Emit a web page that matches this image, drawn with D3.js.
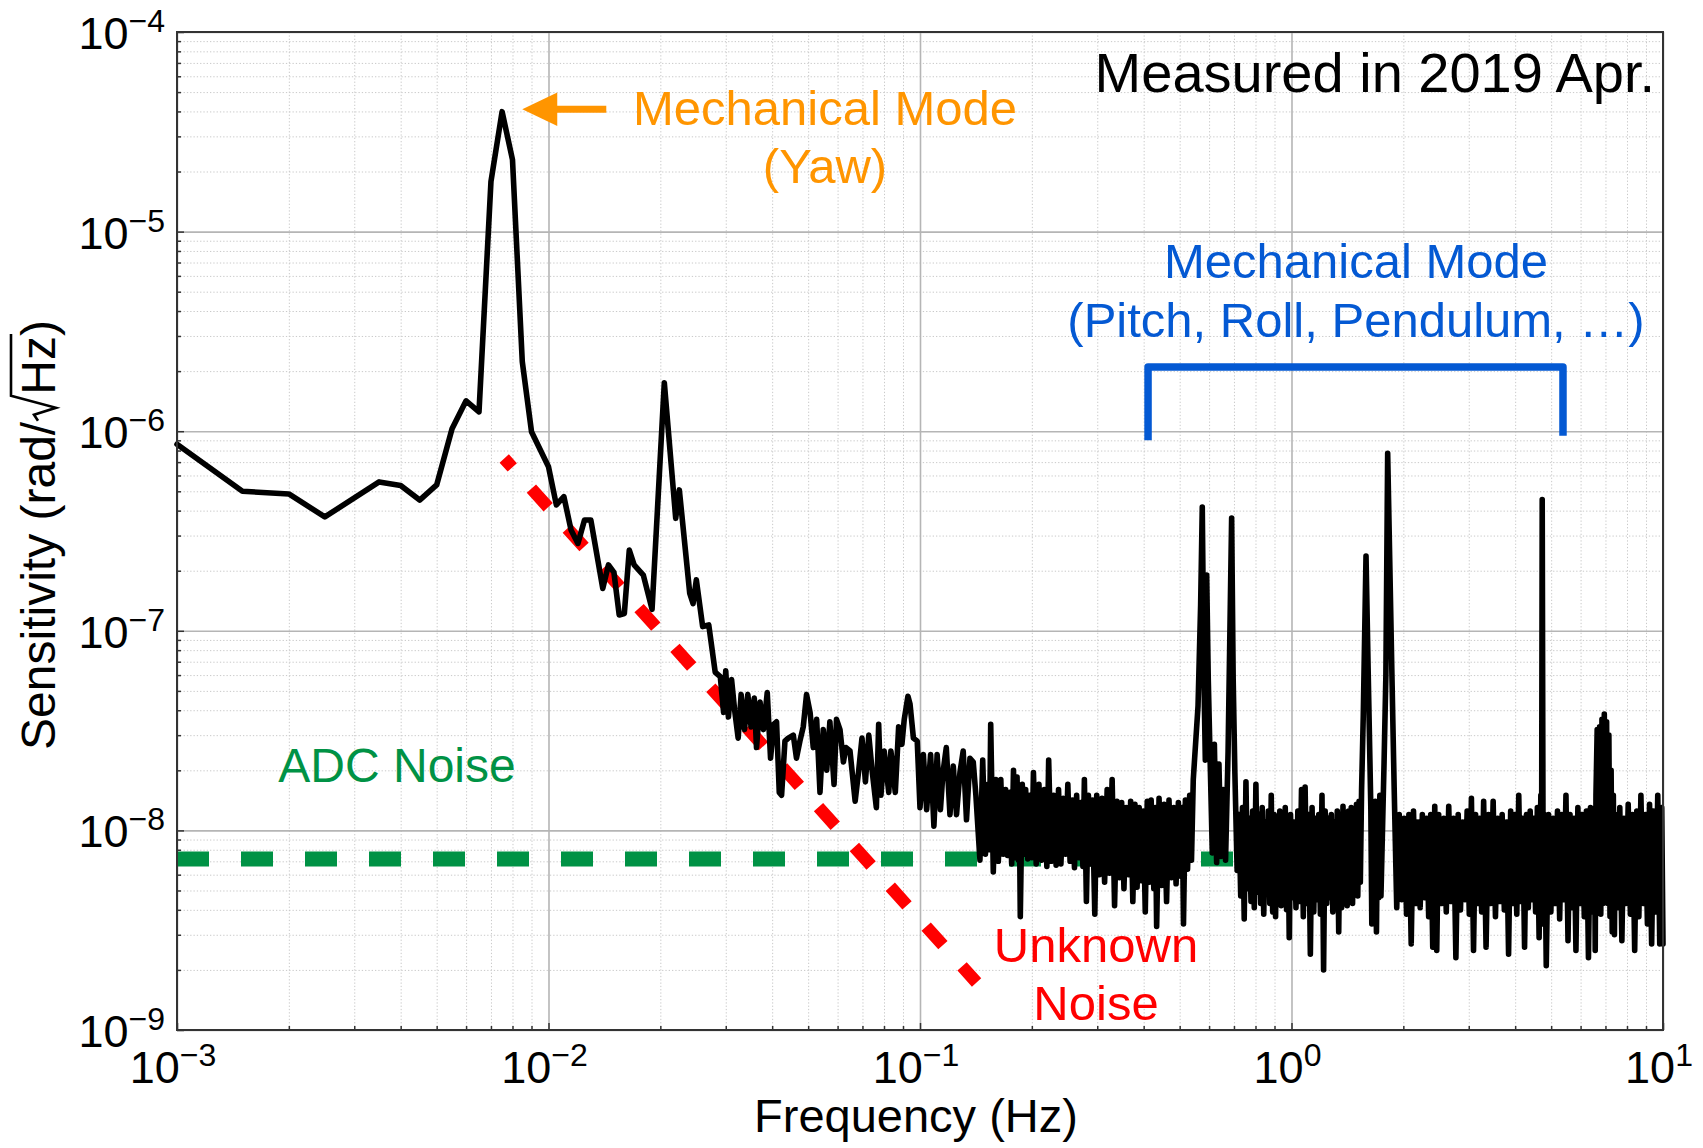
<!DOCTYPE html>
<html>
<head>
<meta charset="utf-8">
<script src="https://cdn.jsdelivr.net/npm/d3@7"></script>
<style>
    html, body { margin: 0; padding: 0; background: #fff; }
    svg { display: block; font-family: "Liberation Sans", Arial, Helvetica, sans-serif; }
    .gridMinor line { stroke: #c9c9c9; stroke-width: 1; stroke-dasharray: 1.3 2; }
    .gridMajor line { stroke: #b5b5b5; stroke-width: 1.6; }
    .gridMinor path, .gridMajor path, .tickG path { display: none; }
    .tickG line { stroke: #333; stroke-width: 1.5; }
    .tickLabel { fill: #000; }
    .axisLabel { fill: #000; font-size: 47px; }
</style>
</head>
<body>
<div id="chart"></div>
<script>
'use strict';

// Tick decades
const xTicks = [1e-3, 1e-2, 1e-1, 1e0, 1e1];
const yTicks = [1e-9, 1e-8, 1e-7, 1e-6, 1e-5, 1e-4];

// Measured sensitivity (Hz, rad/rtHz), low frequency part
const lowFreq = [0.001, 0.0015, 0.002, 0.0025, 0.0035, 0.004, 0.0045, 0.005, 0.0055, 0.006,
    0.0065, 0.007, 0.0075, 0.008, 0.0085, 0.009, 0.01, 0.0105, 0.011, 0.0115,
    0.012, 0.0125, 0.013, 0.014, 0.0145, 0.015, 0.0155, 0.016, 0.0165, 0.017,
    0.018, 0.019, 0.0205, 0.022, 0.0225, 0.024, 0.0245, 0.025, 0.026, 0.027];
const lowAsd = [8.6e-7, 5.0e-7, 4.85e-7, 3.72e-7, 5.57e-7, 5.35e-7, 4.52e-7, 5.38e-7, 1.03e-6, 1.42e-6,
    1.25e-6, 1.78e-5, 3.99e-5, 2.29e-5, 2.23e-6, 9.94e-7, 6.64e-7, 4.27e-7, 4.7e-7, 3.2e-7,
    2.74e-7, 3.59e-7, 3.59e-7, 1.63e-7, 2.14e-7, 1.96e-7, 1.2e-7, 1.22e-7, 2.54e-7, 2.14e-7,
    1.9e-7, 1.28e-7, 1.75e-6, 3.66e-7, 5.08e-7, 1.54e-7, 1.37e-7, 1.8e-7, 1.05e-7, 1.07e-7];

// 0.03 - 0.56 Hz
const bandFreq = [0.0281, 0.0290, 0.0296, 0.0300, 0.0305, 0.0311, 0.0317, 0.0324, 0.0330, 0.0337,
    0.0344, 0.0351, 0.0358, 0.0363, 0.0371, 0.0379, 0.0388, 0.0396, 0.0404, 0.0411,
    0.0418, 0.0424, 0.0433, 0.0442, 0.0456, 0.0465, 0.0475, 0.0485, 0.0495, 0.0506,
    0.0516, 0.0527, 0.0538, 0.0549, 0.0561, 0.0572, 0.0587, 0.0596, 0.0609, 0.0622,
    0.0632, 0.0648, 0.0669, 0.0683, 0.0698, 0.0713, 0.0728, 0.0743, 0.0763, 0.0774,
    0.0785, 0.0801, 0.0824, 0.0835, 0.0858, 0.0876, 0.0894, 0.0907, 0.0928, 0.0940,
    0.0960, 0.0983, 0.1000, 0.1021, 0.1042, 0.1068, 0.1090, 0.1112, 0.1135, 0.1153,
    0.1177, 0.1204, 0.1229, 0.1254, 0.1281, 0.1307, 0.1334, 0.1363, 0.1391, 0.1414,
    0.1450, 0.1475, 0.1500, 0.1525, 0.1537, 0.1550, 0.1575, 0.1600, 0.1625, 0.1650,
    0.1675, 0.1700, 0.1720, 0.1745, 0.1765, 0.1785, 0.1805, 0.1825, 0.1840, 0.1850,
    0.1862, 0.1885, 0.1905, 0.1925, 0.1950, 0.1975, 0.2000, 0.2020, 0.2055, 0.2090,
    0.2125, 0.2160, 0.2195, 0.2220, 0.2255, 0.2290, 0.2325, 0.2360, 0.2395, 0.2430,
    0.2465, 0.2500, 0.2535, 0.2570, 0.2605, 0.2640, 0.2675, 0.2710, 0.2745, 0.2770,
    0.2805, 0.2840, 0.2875, 0.2910, 0.2955, 0.2990, 0.3040, 0.3090, 0.3140, 0.3190,
    0.3240, 0.3290, 0.3340, 0.3390, 0.3440, 0.3490, 0.3540, 0.3590, 0.3640, 0.3690,
    0.3740, 0.3790, 0.3840, 0.3890, 0.3940, 0.3990, 0.4040, 0.4090, 0.4140, 0.4190,
    0.4260, 0.4300, 0.4335, 0.4400, 0.4470, 0.4540, 0.4610, 0.4680, 0.4750, 0.4820,
    0.4890, 0.4960, 0.5030, 0.5080, 0.5120, 0.5180, 0.5250, 0.5320, 0.5380, 0.5440,
    0.5527, 0.5603];
const bandAsd = [6.2e-8, 5.9e-8, 3.9e-8, 6.3e-8, 3.7e-8, 5.7e-8, 4.0e-8, 2.9e-8, 4.8e-8, 3.2e-8,
    4.8e-8, 3.3e-8, 4.6e-8, 2.6e-8, 4.4e-8, 3.2e-8, 4.9e-8, 2.3e-8, 3.4e-8, 3.5e-8,
    1.55e-8, 1.5e-8, 2.8e-8, 2.9e-8, 3.0e-8, 2.3e-8, 2.8e-8, 3.3e-8, 4.8e-8, 3.9e-8,
    2.6e-8, 3.6e-8, 1.55e-8, 3.2e-8, 2.0e-8, 3.5e-8, 1.7e-8, 3.6e-8, 3.2e-8, 2.2e-8,
    2.6e-8, 2.5e-8, 1.4e-8, 1.95e-8, 2.9e-8, 1.75e-8, 3.0e-8, 2.0e-8, 1.3e-8, 3.4e-8,
    1.5e-8, 2.5e-8, 1.55e-8, 2.5e-8, 1.55e-8, 3.3e-8, 2.7e-8, 3.6e-8, 4.7e-8, 4.3e-8,
    2.9e-8, 2.8e-8, 1.3e-8, 2.4e-8, 1.27e-8, 2.4e-8, 1.05e-8, 2.4e-8, 1.27e-8, 1.95e-8,
    2.6e-8, 1.2e-8, 2.1e-8, 1.2e-8, 1.95e-8, 2.5e-8, 1.13e-8, 2.3e-8, 2.2e-8, 1.5e-8,
    7.1e-9, 2.25e-8, 7.6e-9, 1.7e-8, 8.0e-9, 3.4e-8, 6.2e-9, 1.8e-8, 7.0e-9, 1.8e-8,
    7.6e-9, 1.6e-8, 7.5e-9, 1.55e-8, 6.8e-9, 2.0e-8, 7.3e-9, 1.85e-8, 7.1e-9, 1.4e-8,
    3.7e-9, 1.7e-8, 7.6e-9, 1.6e-8, 7.2e-9, 1.5e-8, 7.3e-9, 1.95e-8, 6.8e-9, 1.7e-8,
    7.1e-9, 1.6e-8, 6.6e-9, 2.25e-8, 7.0e-9, 1.5e-8, 6.7e-9, 1.6e-8, 6.8e-9, 1.45e-8,
    7.6e-9, 1.7e-8, 7.0e-9, 1.42e-8, 6.5e-9, 1.5e-8, 7.3e-9, 1.38e-8, 6.6e-9, 1.8e-8,
    4.4e-9, 1.5e-8, 6.8e-9, 1.42e-8, 3.8e-9, 1.5e-8, 6.0e-9, 1.45e-8, 5.5e-9, 1.6e-8,
    6.1e-9, 1.8e-8, 4.2e-9, 1.4e-8, 5.8e-9, 1.38e-8, 5.1e-9, 1.3e-8, 6.0e-9, 1.4e-8,
    4.4e-9, 1.35e-8, 5.2e-9, 1.3e-8, 5.6e-9, 1.25e-8, 3.9e-9, 1.4e-8, 5.5e-9, 1.42e-8,
    5.1e-9, 1.3e-8, 3.3e-9, 1.45e-8, 5.3e-9, 1.35e-8, 4.4e-9, 1.42e-8, 5.8e-9, 1.3e-8,
    5.4e-9, 1.38e-8, 5.9e-9, 1.3e-8, 3.4e-9, 1.42e-8, 6.4e-9, 1.5e-8, 7.1e-9, 1.8e-8,
    2.84e-8, 4.2e-8];

// 0.56 - 10 Hz, with the mechanical modes
const modeFreq = [0.5694, 0.5752, 0.5813, 0.5862, 0.5911, 0.5970, 0.6032, 0.6121, 0.6200, 0.6288,
    0.6378, 0.6457, 0.6550, 0.6645, 0.6750, 0.6820, 0.6900, 0.6967, 0.7040, 0.7140,
    0.722, 0.730, 0.738, 0.746, 0.754, 0.762, 0.770, 0.778, 0.786, 0.794,
    0.802, 0.810, 0.818, 0.826, 0.834, 0.842, 0.850, 0.858, 0.866, 0.874,
    0.882, 0.890, 0.898, 0.906, 0.914, 0.922, 0.930, 0.938, 0.946, 0.954,
    0.962, 0.970, 0.978, 0.986, 0.994, 1.004, 1.016, 1.028, 1.040, 1.052,
    1.064, 1.076, 1.088, 1.100, 1.112, 1.124, 1.136, 1.148, 1.160, 1.172,
    1.184, 1.196, 1.208, 1.220, 1.232, 1.244, 1.256, 1.268, 1.280, 1.292,
    1.304, 1.316, 1.328, 1.340, 1.352, 1.364, 1.376, 1.388, 1.400, 1.412,
    1.424, 1.436, 1.448, 1.460, 1.472, 1.484, 1.496, 1.508, 1.520, 1.532,
    1.544, 1.56, 1.587, 1.61, 1.635, 1.645, 1.657, 1.669, 1.681, 1.693,
    1.705, 1.717, 1.729, 1.741, 1.775, 1.795, 1.815, 1.866, 1.89, 1.92,
    1.95, 1.98, 2.01, 2.04, 2.07, 2.10, 2.13, 2.16, 2.19, 2.22,
    2.25, 2.28, 2.31, 2.34, 2.37, 2.40, 2.43, 2.46, 2.49, 2.53,
    2.57, 2.61, 2.65, 2.69, 2.73, 2.77, 2.81, 2.85, 2.89, 2.93,
    2.97, 3.01, 3.05, 3.09, 3.13, 3.17, 3.21, 3.25, 3.29, 3.34,
    3.39, 3.44, 3.49, 3.54, 3.59, 3.64, 3.69, 3.74, 3.79, 3.84,
    3.89, 3.94, 3.99, 4.04, 4.09, 4.14, 4.19, 4.24, 4.29, 4.34,
    4.39, 4.44, 4.49, 4.54, 4.59, 4.64, 4.69, 4.71, 4.73, 4.76,
    4.80, 4.85, 4.92, 4.99, 5.06, 5.13, 5.20, 5.27, 5.34, 5.41,
    5.48, 5.55, 5.62, 5.69, 5.76, 5.83, 5.90, 5.98, 6.06, 6.14,
    6.22, 6.30, 6.38, 6.46, 6.54, 6.57, 6.6, 6.65, 6.7, 6.75,
    6.8, 6.85, 6.9, 6.95, 7.0, 7.05, 7.1, 7.15, 7.2, 7.25,
    7.3, 7.35, 7.40, 7.45, 7.55, 7.65, 7.75, 7.85, 7.95, 8.06,
    8.17, 8.28, 8.39, 8.50, 8.61, 8.72, 8.84, 8.96, 9.08, 9.20,
    9.32, 9.44, 9.56, 9.68, 9.80, 9.92, 10.0];
const modeAsd = [1.35e-7, 4.17e-7, 5.7e-8, 2.25e-8, 1.9e-7, 5.7e-8, 2.48e-8, 7.7e-9, 2.7e-8, 6.9e-9,
    2.15e-8, 7.4e-9, 1.6e-8, 7.1e-9, 2.48e-8, 8.8e-8, 3.67e-7, 5.7e-8, 1.94e-8, 6.3e-9,
    1.2e-8, 4.7e-9, 1.3e-8, 3.6e-9, 1.75e-8, 5.1e-9, 1.15e-8, 4.4e-9, 1.25e-8, 4.1e-9,
    1.7e-8, 4.9e-9, 1.2e-8, 4.3e-9, 1.3e-8, 3.8e-9, 1.1e-8, 4.8e-9, 1.25e-8, 4.3e-9,
    1.5e-8, 3.9e-9, 1.2e-8, 3.7e-9, 1.15e-8, 4.7e-9, 1.25e-8, 4.2e-9, 1.1e-8, 4.5e-9,
    1.3e-8, 4.0e-9, 1.15e-8, 2.9e-9, 1.2e-8, 4.6e-9, 1.1e-8, 4.1e-9, 1.25e-8, 4.4e-9,
    1.6e-8, 3.7e-9, 1.65e-8, 4.3e-9, 1.2e-8, 2.4e-9, 1.3e-8, 3.9e-9, 1.15e-8, 4.5e-9,
    1.2e-8, 3.8e-9, 1.5e-8, 2.0e-9, 1.25e-8, 4.3e-9, 1.15e-8, 4.6e-9, 1.2e-8, 3.9e-9,
    1.1e-8, 4.4e-9, 1.25e-8, 3.1e-9, 1.2e-8, 4.1e-9, 1.32e-8, 4.7e-9, 1.15e-8, 4.2e-9,
    1.25e-8, 4.8e-9, 1.3e-8, 4.3e-9, 1.2e-8, 5.1e-9, 1.35e-8, 4.7e-9, 1.4e-8, 5.5e-9,
    1.6e-8, 3.7e-8, 2.37e-7, 5.7e-8, 1.3e-8, 3.4e-9, 1.3e-8, 4.4e-9, 1.4e-8, 3.1e-9,
    1.2e-8, 4.6e-9, 1.5e-8, 4.7e-9, 2.2e-8, 6.0e-8, 7.75e-7, 5.3e-8, 1.6e-8, 4.1e-9,
    1.2e-8, 4.5e-9, 1.15e-8, 3.8e-9, 1.2e-8, 2.7e-9, 1.25e-8, 4.3e-9, 1.1e-8, 4.1e-9,
    1.2e-8, 4.6e-9, 1.15e-8, 3.7e-9, 1.2e-8, 2.6e-9, 1.32e-8, 2.5e-9, 1.2e-8, 4.3e-9,
    1.15e-8, 3.9e-9, 1.32e-8, 4.4e-9, 1.15e-8, 2.3e-9, 1.2e-8, 4.0e-9, 1.1e-8, 4.5e-9,
    1.25e-8, 3.8e-9, 1.45e-8, 2.5e-9, 1.2e-8, 4.3e-9, 1.15e-8, 3.9e-9, 1.4e-8, 2.6e-9,
    1.2e-8, 4.3e-9, 1.4e-8, 3.7e-9, 1.15e-8, 4.4e-9, 1.2e-8, 4.0e-9, 1.1e-8, 2.4e-9,
    1.25e-8, 4.3e-9, 1.2e-8, 3.8e-9, 1.5e-8, 4.4e-9, 1.15e-8, 2.6e-9, 1.2e-8, 4.1e-9,
    1.25e-8, 4.5e-9, 1.15e-8, 3.9e-9, 1.3e-8, 2.9e-9, 1.5e-8, 4.1e-9, 4.55e-7, 3.4e-9,
    1.2e-8, 2.1e-9, 1.2e-8, 3.9e-9, 1.15e-8, 4.3e-9, 1.25e-8, 3.6e-9, 1.2e-8, 4.5e-9,
    1.5e-8, 2.8e-9, 1.2e-8, 4.1e-9, 1.15e-8, 2.5e-9, 1.3e-8, 4.3e-9, 1.2e-8, 3.7e-9,
    1.25e-8, 2.3e-9, 1.3e-8, 3.9e-9, 1.2e-8, 2.5e-9, 1.5e-8, 3.2e-8, 4.7e-9, 3.3e-8,
    3.8e-9, 3.6e-8, 4.3e-9, 3.83e-8, 5.1e-9, 3.5e-8, 4.3e-9, 3.0e-8, 3.7e-9, 2.0e-8,
    3.1e-9, 1.5e-8, 3.0e-9, 1.2e-8, 4.1e-9, 1.3e-8, 2.8e-9, 1.15e-8, 4.3e-9, 1.35e-8,
    3.8e-9, 1.2e-8, 2.5e-9, 1.25e-8, 3.7e-9, 1.5e-8, 4.3e-9, 1.2e-8, 3.4e-9, 1.35e-8,
    2.7e-9, 1.25e-8, 3.9e-9, 1.5e-8, 2.7e-9, 1.3e-8, 2.7e-9];

// ADC noise level
const adcFreq = [1e-3, 1e1];
const adcAsd = [7.2e-9, 7.2e-9];

// Unknown noise (~1/f^2)
const unknownFreq = [0.0076, 0.142];
const unknownAsd = [7.3e-7, 1.73e-9];

/*
Sensitivity plot
 */
class SensitivityPlot {

    // Elements
    svg = null;
    g = null;

    // Configs
    svgW = 1703;
    svgH = 1148;
    gMargin = {top: 32, right: 40, bottom: 118, left: 177};
    gW = this.svgW - (this.gMargin.left + this.gMargin.right);
    gH = this.svgH - (this.gMargin.top + this.gMargin.bottom);
    lineW = 5.6;
    tickSize = 45;
    supSize = 32;
    orange = '#ff9500';
    blue = '#0459d3';
    green = '#009245';
    red = '#ff0000';

    // Annotation anchors (data units)
    yawTip = [0.0085, 4.1e-5];
    bracket = {f0: 0.411, f1: 5.38, top: 2.1e-6, bottom0: 9.0e-7, bottom1: 9.5e-7};

    // Tools
    xScale = d3.scaleLog()
        .domain([1e-3, 1e1])
        .range([0, this.gW]);
    yScale = d3.scaleLog()
        .domain([1e-9, 1e-4])
        .range([this.gH, 0]);

    constructor(_target) {
        this.target = _target;
        this.init();
    }

    /*
    1. Init
     */
    init() {
        const vis = this;

        vis.svg = d3.select(`#${vis.target}`)
            .append('svg')
            .attr('width', vis.svgW)
            .attr('height', vis.svgH);
        vis.g = vis.svg.append('g')
            .attr('transform', `translate(${vis.gMargin.left}, ${vis.gMargin.top})`);

        vis.wrangle();
    }

    /*
    2. Wrangle
     */
    wrangle() {
        const vis = this;

        const pairs = (fs, vs) => {
            if (fs.length !== vs.length) throw new Error(`length mismatch ${fs.length} / ${vs.length}`);
            return fs.map((f, i) => ({f: f, v: vs[i]}));
        };
        vis.spectrum = pairs(lowFreq, lowAsd)
            .concat(pairs(bandFreq, bandAsd))
            .concat(pairs(modeFreq, modeAsd));
        vis.adc = pairs(adcFreq, adcAsd);
        vis.unknown = pairs(unknownFreq, unknownAsd);

        const isMajor = d => Math.abs(Math.log10(d) - Math.round(Math.log10(d))) < 1e-6;
        vis.xMinor = vis.xScale.ticks().filter(d => !isMajor(d));
        vis.yMinor = vis.yScale.ticks().filter(d => !isMajor(d));

        vis.render();
    }

    /*
    3. Render
     */
    render() {
        const vis = this;
        const x = vis.xScale, y = vis.yScale;

        // Grid
        vis.g.append('g').attr('class', 'gridMinor')
            .attr('transform', `translate(0, ${vis.gH})`)
            .call(d3.axisBottom(x).tickValues(vis.xMinor).tickSize(-vis.gH).tickFormat(''));
        vis.g.append('g').attr('class', 'gridMinor')
            .call(d3.axisLeft(y).tickValues(vis.yMinor).tickSize(-vis.gW).tickFormat(''));
        vis.g.append('g').attr('class', 'gridMajor')
            .attr('transform', `translate(0, ${vis.gH})`)
            .call(d3.axisBottom(x).tickValues(xTicks).tickSize(-vis.gH).tickFormat(''));
        vis.g.append('g').attr('class', 'gridMajor')
            .call(d3.axisLeft(y).tickValues(yTicks).tickSize(-vis.gW).tickFormat(''));

        // Inward ticks
        vis.g.append('g').attr('class', 'tickG')
            .attr('transform', `translate(0, ${vis.gH})`)
            .call(d3.axisBottom(x).tickValues(vis.xMinor).tickSize(-4).tickFormat(''));
        vis.g.append('g').attr('class', 'tickG')
            .attr('transform', `translate(0, ${vis.gH})`)
            .call(d3.axisBottom(x).tickValues(xTicks).tickSize(-7).tickFormat(''));
        vis.g.append('g').attr('class', 'tickG')
            .call(d3.axisLeft(y).tickValues(vis.yMinor).tickSize(-4).tickFormat(''));
        vis.g.append('g').attr('class', 'tickG')
            .call(d3.axisLeft(y).tickValues(yTicks).tickSize(-7).tickFormat(''));

        const line = d3.line()
            .x(d => x(d.f))
            .y(d => y(d.v));

        // ADC noise
        vis.g.append('path')
            .datum(vis.adc)
            .attr('d', line)
            .attr('fill', 'none')
            .attr('stroke', vis.green)
            .attr('stroke-width', 15)
            .attr('stroke-dasharray', '32 32');

        // Unknown noise
        vis.g.append('path')
            .datum(vis.unknown)
            .attr('d', line)
            .attr('fill', 'none')
            .attr('stroke', vis.red)
            .attr('stroke-width', 12.5)
            .attr('stroke-dasharray', '25 28.6')
            .attr('stroke-dashoffset', 13);

        // Measured sensitivity
        vis.g.append('path')
            .datum(vis.spectrum)
            .attr('d', line)
            .attr('fill', 'none')
            .attr('stroke', '#000')
            .attr('stroke-width', vis.lineW)
            .attr('stroke-linejoin', 'round')
            .attr('stroke-linecap', 'round');

        // Frame
        vis.g.append('rect')
            .attr('width', vis.gW)
            .attr('height', vis.gH)
            .attr('fill', 'none')
            .attr('stroke', '#333')
            .attr('stroke-width', 2);

        // Tick labels
        const addPow = (sel, d) => {
            const e = Math.round(Math.log10(d));
            sel.append('tspan').attr('font-size', vis.tickSize).text('10');
            sel.append('tspan').attr('font-size', vis.supSize).attr('dy', -17)
                .text(e < 0 ? `\u2212${-e}` : `${e}`);
        };
        yTicks.forEach(d => {
            const t = vis.g.append('text').attr('class', 'tickLabel')
                .attr('x', -12)
                .attr('y', y(d) + 17)
                .attr('text-anchor', 'end');
            addPow(t, d);
        });
        xTicks.forEach(d => {
            const t = vis.g.append('text').attr('class', 'tickLabel')
                .attr('x', x(d) - 4)
                .attr('y', vis.gH + 53)
                .attr('text-anchor', 'middle');
            addPow(t, d);
        });

        // Axis labels
        vis.svg.append('text').attr('class', 'axisLabel')
            .attr('x', 916).attr('y', 1132)
            .attr('text-anchor', 'middle')
            .text('Frequency (Hz)');

        const radW = 27;
        const yLab = vis.svg.append('g')
            .attr('transform', 'translate(55, 535) rotate(-90)');
        const yText = yLab.append('text').attr('class', 'axisLabel')
            .style('font-size', '48px')
            .attr('x', 0).attr('y', 0);
        yText.append('tspan').text('Sensitivity (rad/');
        yText.append('tspan').attr('dx', radW).text('Hz)');
        const node = yText.node();
        const preW = node.getSubStringLength(0, 17);
        const hzW = node.getSubStringLength(17, 2);
        const parW = node.getSubStringLength(19, 1);
        const x0 = -(preW + radW + hzW + parW) / 2;
        yText.attr('x', x0);
        const r0 = x0 + preW + 1;
        const hzEnd = x0 + preW + radW + hzW;
        yLab.append('path')
            .attr('d', `M${r0},-17 L${r0 + 6},-21 L${r0 + 13},1 L${r0 + 25},-44 L${hzEnd + 2},-44`)
            .attr('fill', 'none')
            .attr('stroke', '#000')
            .attr('stroke-width', 2.6)
            .attr('stroke-linejoin', 'miter');

        // Annotations
        const addLines = (lines, cx, ys, size, color) => {
            lines.forEach((s, i) => {
                vis.svg.append('text')
                    .attr('x', cx).attr('y', ys[i])
                    .attr('text-anchor', 'middle')
                    .attr('font-size', size)
                    .attr('fill', color)
                    .text(s);
            });
        };
        vis.svg.append('text')
            .attr('x', 1655).attr('y', 92)
            .attr('text-anchor', 'end')
            .attr('font-size', 56)
            .text('Measured in 2019 Apr.');
        addLines(['Mechanical Mode', '(Yaw)'], 825, [125, 183], 49, vis.orange);
        addLines(['Mechanical Mode', '(Pitch, Roll, Pendulum, \u2026)'], 1356, [278, 337], 49, vis.blue);
        addLines(['ADC Noise'], 397, [782], 48, vis.green);
        addLines(['Unknown', 'Noise'], 1096, [962, 1020], 49, vis.red);

        // Yaw arrow
        const tx = x(vis.yawTip[0]), ty = y(vis.yawTip[1]);
        vis.g.append('line')
            .attr('x1', tx + 30).attr('x2', tx + 84)
            .attr('y1', ty).attr('y2', ty)
            .attr('stroke', vis.orange)
            .attr('stroke-width', 7);
        vis.g.append('path')
            .attr('d', `M${tx},${ty} L${tx + 35},${ty - 16.7} L${tx + 35},${ty + 16.7} Z`)
            .attr('fill', vis.orange);

        // Bracket over the high frequency modes
        const b = vis.bracket;
        vis.g.append('path')
            .attr('d', `M${x(b.f0)},${y(b.bottom0)} V${y(b.top)} H${x(b.f1)} V${y(b.bottom1)}`)
            .attr('fill', 'none')
            .attr('stroke', vis.blue)
            .attr('stroke-width', 7.5)
            .attr('stroke-linejoin', 'round');
    }
}

new SensitivityPlot('chart');
</script>
</body>
</html>
